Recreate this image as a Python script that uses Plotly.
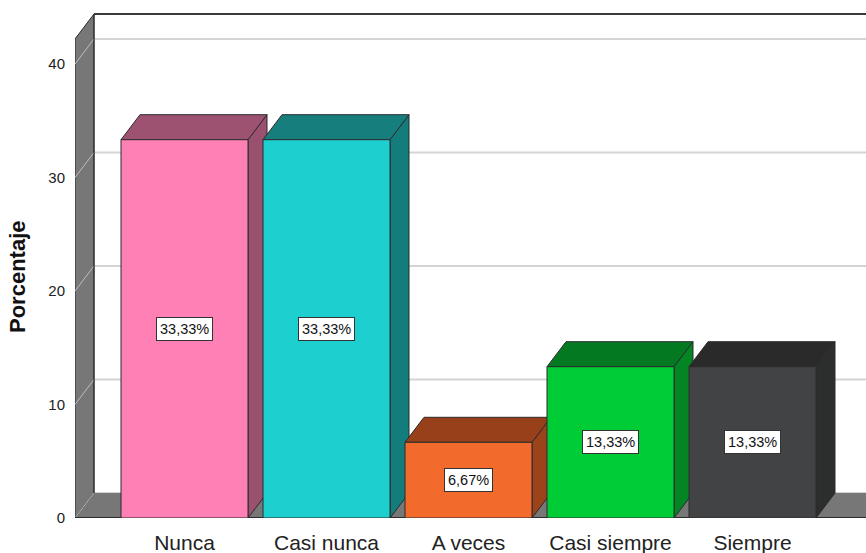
import plotly.graph_objects as go

# ---- data ----
categories = ["Nunca", "Casi nunca", "A veces", "Casi siempre", "Siempre"]
percentages = [33.33, 33.33, 6.67, 13.33, 13.33]
value_labels = ["33,33%", "33,33%", "6,67%", "13,33%", "13,33%"]
y_ticks = [0, 10, 20, 30, 40]
y_title = "Porcentaje"

# ---- styles ----
front_colors = ["#FF80B4", "#1ECFCF", "#F26B2C", "#00CC35", "#424345"]
top_colors = ["#9C5270", "#177E7E", "#984019", "#037A22", "#2A2A2A"]
side_colors = ["#9A5170", "#137C7C", "#9B441C", "#038524", "#2C2E2E"]

W, H = 866, 553
ML, MR, MT, MB = 75, 0, 0, H - 518
PX_X = 142.0          # pixels per category
PX_Y = 11.35          # pixels per percent
X_FIRST = 184.5       # pixel x of first category centre
XMIN = (ML - X_FIRST) / PX_X
XMAX = (W - MR - X_FIRST) / PX_X
YMAX = (H - MB - MT) / PX_Y
DX = 19 / PX_X        # depth offset (x units)
DY = 25 / PX_Y        # depth offset (y units)
BAR_W = 127 / PX_X
WALL_TOP = 42.2
WALL = "#777777"
EDGE = "#2b2b2b"
FONT = "Liberation Sans, Arial, sans-serif"

fig = go.Figure()


def poly(xs, ys, fill, line_color=EDGE, width=1):
    fig.add_trace(go.Scatter(
        x=xs + [xs[0]], y=ys + [ys[0]], mode="lines", fill="toself",
        fillcolor=fill, line=dict(color=line_color, width=width),
        hoverinfo="skip", showlegend=False))


def line(xs, ys, color, width=1):
    fig.add_trace(go.Scatter(
        x=xs, y=ys, mode="lines", line=dict(color=color, width=width),
        hoverinfo="skip", showlegend=False))


# back-wall gridlines
for v in y_ticks:
    line([XMIN + DX, XMAX + 1], [v + DY, v + DY], "#D4D4D4", 2)

# floor
fig.add_trace(go.Scatter(
    x=[XMIN, XMIN + DX, XMAX + 1, XMAX + 1, XMIN],
    y=[0, DY, DY, 0, 0], mode="lines", fill="toself", fillcolor=WALL,
    line=dict(width=0), hoverinfo="skip", showlegend=False))

# left wall
poly([XMIN, XMIN, XMIN + DX, XMIN + DX],
     [0, WALL_TOP, WALL_TOP + DY, DY], WALL)

# diagonal gridlines on the left wall
for v in y_ticks:
    line([XMIN, XMIN + DX], [v, v + DY], "#BDBDBD", 1)

# floor front edge and back wall top edge
line([XMIN, XMAX + 1], [0, 0], EDGE, 2)
line([XMIN + DX, XMAX + 1], [WALL_TOP + DY, WALL_TOP + DY], "#3a3a3a", 2)
line([XMIN + DX, XMIN + DX], [DY, WALL_TOP + DY], EDGE, 1)

# bars
for i, v in enumerate(percentages):
    x0 = i - BAR_W / 2
    x1 = i + BAR_W / 2
    poly([x1, x1 + DX, x1 + DX, x1], [0, DY, v + DY, v], side_colors[i])
    poly([x0, x0 + DX, x1 + DX, x1], [v, v + DY, v + DY, v], top_colors[i])
    poly([x0, x1, x1, x0], [0, 0, v, v], front_colors[i])

# value labels
for i, v in enumerate(percentages):
    fig.add_annotation(
        x=i, y=v / 2, text=value_labels[i], showarrow=False,
        font=dict(family=FONT, size=14.5, color="#111111"),
        bgcolor="white", bordercolor="#333333", borderwidth=1, borderpad=3)

# y-axis title
fig.add_annotation(
    xref="paper", yref="paper", x=0, y=(518 - 277) / 518,
    xanchor="center", yanchor="middle", xshift=18 - ML,
    text="<b>" + y_title + "</b>", textangle=-90, showarrow=False,
    font=dict(family=FONT, size=22, color="#111111"))

fig.update_layout(
    width=W, height=H,
    margin=dict(l=ML, r=MR, t=MT, b=MB),
    paper_bgcolor="white", plot_bgcolor="white",
    showlegend=False,
    xaxis=dict(range=[XMIN, XMAX], tickmode="array",
               tickvals=list(range(len(categories))), ticktext=categories,
               showgrid=False, zeroline=False, showline=False,
               ticks="outside", ticklen=6, tickcolor="rgba(0,0,0,0)",
               tickfont=dict(family=FONT, size=21, color="#222222"),
               fixedrange=True),
    yaxis=dict(range=[0, YMAX], tickmode="array", tickvals=y_ticks,
               ticktext=[str(t) for t in y_ticks],
               showgrid=False, zeroline=False, showline=False,
               ticks="outside", ticklen=6, tickcolor="rgba(0,0,0,0)",
               tickfont=dict(family=FONT, size=15, color="#222222"),
               fixedrange=True),
)

fig.write_html(
    "out.html",
    config={"displayModeBar": False},
    post_script="document.body.style.margin='0';"
                "document.body.style.overflow='hidden';")
